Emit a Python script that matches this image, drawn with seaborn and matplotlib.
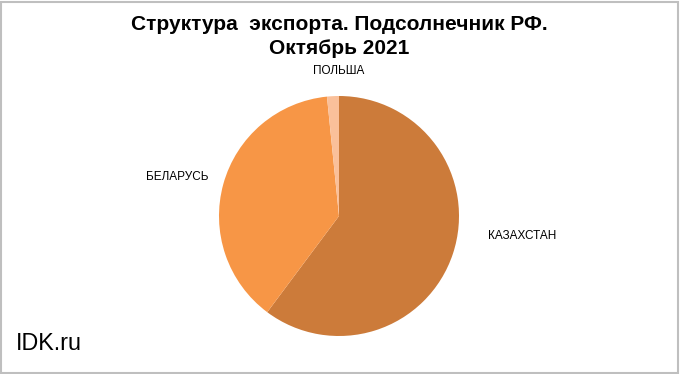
import matplotlib
matplotlib.use("Agg")
import matplotlib.pyplot as plt
import seaborn as sns
from matplotlib.patches import Rectangle

sns.set_theme(style="white")
plt.rcParams['font.family'] = ['Liberation Sans', 'DejaVu Sans']

countries = ["КАЗАХСТАН", "БЕЛАРУСЬ", "ПОЛЬША"]
shares = [60.2, 38.2, 1.6]
colors = ["#CC7B3A", "#F79646", "#FAC09A"]

W, H = 680, 374
fig = plt.figure(figsize=(W / 100, H / 100), dpi=100)
fig.patch.set_facecolor("white")

cx, cy, r = 339, 374 - 216, 120
ax = fig.add_axes([(cx - r) / W, (cy - r) / H, 2 * r / W, 2 * r / H])
ax.pie(shares, colors=colors, startangle=90, counterclock=False,
       radius=1.0, wedgeprops=dict(linewidth=0))
ax.set_xlim(-1, 1)
ax.set_ylim(-1, 1)
ax.set_aspect("equal")
ax.axis("off")

# labels
label_pos = {"КАЗАХСТАН": (522, 236), "БЕЛАРУСЬ": (177, 177), "ПОЛЬША": (339, 71)}
for c in countries:
    x, y = label_pos[c]
    fig.text(x / W, 1 - y / H, c, ha="center", va="center", fontsize=8.5, color="black")

fig.text(339 / W, 1 - 24 / H, "Структура  экспорта. Подсолнечник РФ.",
         ha="center", va="center", fontsize=15, fontweight="bold", color="black")
fig.text(339 / W, 1 - 48 / H, "Октябрь 2021",
         ha="center", va="center", fontsize=15, fontweight="bold", color="black")

fig.text(16 / W, 1 - 344 / H, "IDK.ru", ha="left", va="center", fontsize=16.8, color="black")

fig.add_artist(Rectangle((1 / W, 1 / H), (W - 3) / W, (H - 3) / H,
                         transform=fig.transFigure, fill=False,
                         edgecolor="#BFBFBF", linewidth=1.5))

fig.savefig("out.png", dpi=100)
